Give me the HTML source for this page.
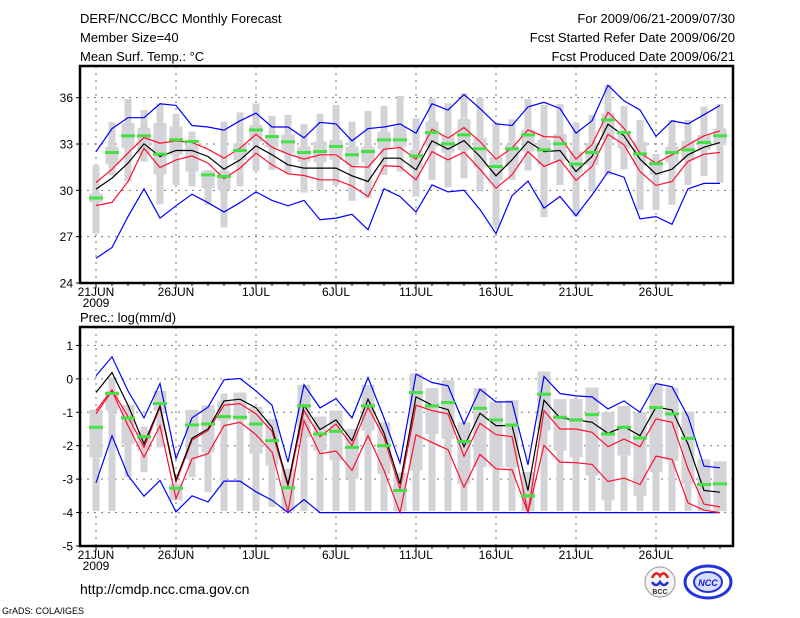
<!DOCTYPE html>
<html><head><meta charset="utf-8"><style>
html,body{margin:0;padding:0;background:#fff;}
svg{display:block;font-family:"Liberation Sans",sans-serif;}
</style></head><body>
<svg id="c" width="800" height="618" viewBox="0 0 800 618" xmlns="http://www.w3.org/2000/svg">
<text x="80" y="23" font-size="13">DERF/NCC/BCC Monthly Forecast</text>
<text x="80" y="42" font-size="13">Member Size=40</text>
<text x="80" y="61" font-size="13">Mean Surf. Temp.: °C</text>
<text x="735" y="23" font-size="13" text-anchor="end">For 2009/06/21-2009/07/30</text>
<text x="735" y="42" font-size="13" text-anchor="end">Fcst Started Refer Date 2009/06/20</text>
<text x="735" y="61" font-size="13" text-anchor="end">Fcst Produced Date 2009/06/21</text>
<text x="80" y="322" font-size="13">Prec.: log(mm/d)</text>
<text x="80" y="594" font-size="14">http://cmdp.ncc.cma.gov.cn</text>
<text x="2" y="614" font-size="9">GrADS: COLA/IGES</text>
<g>
<circle cx="660" cy="582" r="15" fill="#f4f4f4" stroke="#999" stroke-width="1"/>
<path d="M652 578 q4 -8 8 -2 q4 -6 8 2" fill="none" stroke="#d22" stroke-width="2.5"/>
<path d="M652 582 q4 6 8 0 q4 6 8 0" fill="none" stroke="#23c" stroke-width="2.5"/>
<text x="660" y="594" font-size="7" font-weight="bold" text-anchor="middle" fill="#333">BCC</text>
</g>
<g>
<ellipse cx="708" cy="582" rx="23" ry="16" fill="none" stroke="#23d" stroke-width="3"/>
<ellipse cx="708" cy="582" rx="14" ry="10" fill="#d8dcff" stroke="#23d" stroke-width="2"/>
<text x="708" y="586" font-size="9" font-weight="bold" text-anchor="middle" fill="#12c" font-style="italic">NCC</text>
</g>
</svg>
<script>
// ---- Temperature panel data (°C), days 21JUN..30JUL
const days = 40;
const xLabels = ["21JUN","26JUN","1JUL","6JUL","11JUL","16JUL","21JUL","26JUL"];
const tTicks = [24,27,30,33,36];
const pTicks = [-5,-4,-3,-2,-1,0,1];
const tBlueMax = [32.5,34.0,34.7,34.7,35.6,35.5,34.2,34.1,33.9,34.5,35.0,34.1,34.1,33.4,34.4,34.3,33.2,34.0,34.1,34.3,33.7,35.6,35.2,36.2,35.3,34.3,34.2,35.4,35.7,35.3,33.7,34.5,36.8,35.8,35.2,33.5,34.5,34.3,34.9,35.5];
const tBlueMin = [25.6,26.3,28.3,30.1,28.2,29.0,29.75,29.2,28.6,29.2,29.9,29.35,29.0,29.35,28.1,28.2,28.45,27.45,30.1,29.6,28.6,30.35,29.9,30.0,28.75,27.2,29.65,30.6,28.85,29.6,28.35,29.7,31.2,30.85,28.15,28.3,27.8,30.1,30.45,30.45];
const tMean = [30.08,30.79,31.76,33.01,32.19,32.58,32.58,32.19,31.37,31.97,32.88,32.30,31.65,31.44,31.44,31.44,30.94,30.57,32.08,32.08,31.33,33.2,32.66,33.22,32.19,30.94,31.97,33.16,32.51,32.58,31.22,32.19,34.28,33.53,32.02,31.05,31.37,32.30,32.79,33.09];
const tRedUp = [30.51,31.37,32.41,33.42,33.05,33.2,33.1,32.66,32.08,32.73,33.63,32.79,32.36,32.02,32.3,32.3,31.54,31.5,32.66,32.77,32.02,33.96,33.38,34.07,33.16,32.02,32.73,33.91,33.48,33.44,32.02,32.95,35.06,34.02,32.41,31.76,32.3,32.95,33.53,33.85];
const tRedLo = [29.02,29.22,30.57,32.73,31.48,31.97,32.23,31.76,30.75,31.44,32.41,31.65,31.07,30.96,30.68,30.68,30.29,29.6,31.59,31.54,30.68,32.51,31.97,32.47,31.37,30.14,31.0,32.51,31.54,31.97,30.64,31.54,33.63,32.95,31.22,30.32,30.57,31.87,32.34,32.45];
const tObs = [29.5,32.45,33.53,33.53,32.34,33.27,33.16,31.0,30.9,32.58,33.91,33.48,33.14,32.45,32.51,32.84,32.3,32.51,33.27,33.27,32.23,33.74,33.01,33.59,32.69,31.54,32.69,33.59,32.62,33.01,31.7,32.45,34.56,33.74,32.36,31.72,32.45,32.62,33.1,33.53];
const tBarTop = [31.65,34.41,35.91,35.2,35.63,34.95,33.8,31.32,34.45,35.05,35.63,34.82,34.88,34.3,34.95,35.53,34.45,35.14,35.46,36.11,34.66,35.95,35.63,36.28,36.02,34.34,34.6,35.91,35.52,35.59,34.38,34.88,36.82,35.46,34.55,32.36,34.55,34.55,35.42,35.59];
const tBarBot = [27.21,30.96,30.61,31.86,29.1,30.35,30.25,29.06,27.6,30.25,31.26,31.32,31.11,29.86,30.03,30.35,29.32,29.49,31.0,31.22,29.6,30.67,30.2,30.78,29.92,27.66,30.67,31.28,28.26,30.35,28.3,29.92,31.0,31.36,28.73,28.73,29.06,30.35,30.93,30.5];
const tBoxTop = [29.79,32.83,34.34,34.06,34.34,34.13,32.94,31.26,31.22,33.05,34.23,33.59,33.59,32.83,33.16,33.26,32.83,32.83,33.8,34.13,32.61,34.45,33.58,34.6,33.37,32.14,32.94,33.91,33.3,33.65,32.51,33.05,34.98,33.8,33.15,31.97,32.83,33.2,33.58,34.0];
const tBoxBot = [29.23,31.69,32.73,32.34,31.04,32.3,31.22,30.14,30.03,31.97,33.16,32.77,32.4,31.86,31.82,31.97,31.65,31.82,32.68,32.83,31.43,32.83,32.44,32.61,31.49,30.67,31.54,32.51,31.64,31.92,31.15,31.64,33.26,32.72,31.58,31.0,31.8,31.97,32.61,32.94];
// ---- Precipitation panel data (log mm/d)
const pBlueMax = [0.09,0.66,-0.36,-1.17,-0.14,-2.39,-1.17,-0.85,-0.03,0.01,-0.36,-0.79,-2.49,-0.18,-0.87,-0.59,-1.17,0.04,-1.17,-2.52,0.14,-0.11,-0.21,-1.35,-0.31,-0.69,-0.69,-2.57,0.07,-0.44,-0.51,-0.54,-0.9,-0.66,-1.0,-0.14,-0.24,-1.13,-2.61,-2.66];
const pBlueMin = [-3.11,-1.7,-2.89,-3.51,-3.04,-3.98,-3.5,-3.68,-3.06,-3.06,-3.38,-3.63,-4,-3.61,-4,-4,-4,-4,-4,-4,-4,-4,-4,-4,-4,-4,-4,-4,-4,-4,-4,-4,-4,-4,-4,-4,-4,-4,-4,-4];
const pMean = [-0.41,0.19,-0.79,-1.95,-0.81,-3.02,-1.78,-1.5,-0.66,-0.61,-0.87,-1.45,-3.16,-0.79,-1.52,-1.23,-1.85,-0.61,-1.62,-3.14,-0.54,-0.79,-0.92,-2.03,-1.03,-1.4,-1.4,-3.34,-0.64,-1.17,-1.23,-1.3,-1.63,-1.43,-1.7,-0.85,-0.93,-1.95,-3.34,-3.39];
const pRedUp = [-0.95,-0.33,-1.13,-2.05,-0.85,-3.09,-1.83,-1.55,-0.79,-0.74,-1.05,-1.57,-3.22,-0.95,-1.73,-1.35,-2.0,-0.85,-1.75,-3.29,-0.79,-0.95,-1.05,-2.32,-1.33,-1.67,-1.73,-4.0,-0.95,-1.5,-1.5,-1.6,-2.03,-1.8,-2.03,-1.2,-1.3,-2.69,-3.75,-3.83];
const pRedLo = [-1.05,-0.36,-1.4,-2.34,-1.4,-3.58,-2.39,-2.24,-1.4,-1.3,-1.67,-2.19,-3.98,-1.25,-2.24,-2.16,-2.74,-1.7,-2.74,-4.0,-1.67,-1.9,-2.12,-3.24,-2.26,-2.69,-2.72,-4.0,-1.99,-2.49,-2.51,-2.56,-3.07,-2.97,-3.16,-2.31,-2.41,-3.71,-3.93,-4.0];
const pObs = [-1.45,-0.44,-1.17,-1.73,-0.74,-3.27,-1.38,-1.35,-1.13,-1.15,-1.35,-1.85,-3.26,-0.81,-1.65,-1.57,-2.05,-0.81,-2.0,-3.34,-0.41,-0.81,-0.71,-1.88,-0.88,-1.23,-1.38,-3.5,-0.46,-1.15,-1.23,-1.07,-1.65,-1.45,-1.77,-0.86,-1.05,-1.78,-3.16,-3.14];
const pBarTop = [-0.92,0.04,-0.78,-1.43,-0.36,-3.14,-0.93,-0.79,-0.44,-0.41,-0.84,-1.2,-2.69,-0.18,-1.13,-0.95,-1.5,-0.18,-1.3,-2.81,0.16,-0.28,-0.04,-1.3,-0.28,-0.68,-0.64,-2.79,0.22,-0.61,-0.61,-0.26,-1.0,-0.81,-1.0,-0.16,-0.26,-0.98,-2.41,-2.47];
const pBarBot = [-3.95,-3.95,-2.94,-2.79,-2.05,-3.63,-2.94,-3.39,-3.95,-3.95,-3.95,-3.83,-3.95,-3.95,-3.95,-3.95,-3.95,-3.95,-3.95,-3.95,-3.95,-3.95,-3.95,-3.95,-3.95,-3.95,-3.95,-3.95,-3.95,-3.95,-3.95,-3.95,-3.95,-3.95,-3.95,-3.95,-3.95,-3.95,-3.95,-3.95];
const pBoxTop = [-0.92,-0.36,-0.78,-1.55,-0.36,-3.14,-0.93,-0.79,-0.66,-0.41,-0.84,-1.2,-2.69,-0.18,-1.13,-0.95,-1.5,-0.18,-1.3,-2.81,0.16,-0.28,-0.04,-1.3,-0.28,-0.68,-0.64,-2.79,0.22,-0.61,-0.61,-0.26,-1.0,-0.81,-1.0,-0.16,-0.26,-0.98,-2.41,-2.47];
const pBoxBot = [-2.34,-0.95,-1.95,-2.15,-0.95,-3.63,-2.41,-2.2,-1.25,-1.25,-2.24,-2.59,-3.96,-1.75,-2.15,-2.44,-2.99,-1.55,-2.84,-3.96,-2.74,-1.65,-1.8,-3.14,-2.64,-2.64,-2.64,-3.96,-1.55,-2.15,-2.34,-2.89,-3.63,-2.29,-3.51,-2.79,-2.44,-3.14,-3.96,-3.96];

const NS = "http://www.w3.org/2000/svg";
const svg = document.getElementById('c');
const X0 = 80, X1 = 733;
function xd(d){ return 96 + 16*d; }
function mk(tag, attrs, parent){
  const e = document.createElementNS(NS, tag);
  for (const k in attrs) e.setAttribute(k, attrs[k]);
  (parent||svg).appendChild(e);
  return e;
}
function panel(name, top, bottom, vmin, vmax, ticks, series, bars, showYear){
  const y = v => bottom - (v - vmin) * (bottom - top) / (vmax - vmin);
  const g = mk('g', {});
  
  
  // grid
  for (let i = 0; i < xLabels.length; i++) {
    const gx = xd(i*5);
    const gl = mk('line', {x1:gx, x2:gx, y1:top, y2:bottom, stroke:'#777', 'stroke-width':1, 'stroke-dasharray':'2,5'}, g);
    
    
  }
  ticks.forEach(t => {
    if (t === vmin) return;
    const gl = mk('line', {x1:X0, x2:X1, y1:y(t), y2:y(t), stroke:'#777', 'stroke-width':1, 'stroke-dasharray':'2,5'}, g);
    
    
  });
  // bars
  for (let d = 0; d < days; d++) {
    const cx = xd(d);
    const b1 = mk('rect', {x:cx-3.5, width:7, y:y(bars[0][d]), height:Math.max(1, y(bars[1][d]) - y(bars[0][d])), fill:'#d3d3d8'}, g);
    
    
    const b2 = mk('rect', {x:cx-6.5, width:13, y:y(bars[2][d]), height:Math.max(1, y(bars[3][d]) - y(bars[2][d])), fill:'#d3d3d8'}, g);
    
    
  }
  // lines
  series.forEach(s => {
    const pts = s.data.map((v, d) => xd(d) + ',' + y(v).toFixed(1)).join(' ');
    const pl = mk('polyline', {points:pts, fill:'none', stroke:s.color, 'stroke-width':1.2}, g);
    
    
  });
  // observed marks
  for (let d = 0; d < days; d++) {
    const m = mk('rect', {x:xd(d)-7, width:14, y:y(bars[4][d])-1.5, height:3, fill:'#44e044'}, g);
    
    
  }
  // frame
  const fr = mk('rect', {x:X0, y:top, width:X1-X0, height:bottom-top, fill:'none', stroke:'#000', 'stroke-width':2.5}, g);
  
  
  // minor ticks
  for (let d = 0; d < days; d++) {
    const tk = mk('line', {x1:xd(d), x2:xd(d), y1:bottom, y2:bottom+(d%5===0?5:3), stroke:'#000', 'stroke-width':1}, g);
    
    
  }
  ticks.forEach(t => {
    const tk = mk('line', {x1:X0-4, x2:X0, y1:y(t), y2:y(t), stroke:'#000', 'stroke-width':1}, g);
    
    
    const tl = mk('text', {x:X0-7, y:y(t)+4.5, 'font-size':12, 'text-anchor':'end'}, g);
    tl.textContent = String(t);
    
    
  });
  xLabels.forEach((lab, i) => {
    const tl = mk('text', {x:xd(i*5), y:bottom+13, 'font-size':12, 'text-anchor':'middle'}, g);
    tl.textContent = lab;
    
    
  });
  const yr = mk('text', {x:xd(0), y:bottom+24, 'font-size':12, 'text-anchor':'middle'}, g);
  yr.textContent = '2009';
  
  
}
panel('temperature-panel', 66, 283, 24, 38.05, tTicks,
  [{name:'ensemble-max-line', data:tBlueMax, color:'#0000ff'},
   {name:'ensemble-min-line', data:tBlueMin, color:'#0000ff'},
   {name:'upper-spread-line', data:tRedUp, color:'#ff1030'},
   {name:'lower-spread-line', data:tRedLo, color:'#ff1030'},
   {name:'ensemble-mean-line', data:tMean, color:'#000000'}],
  [tBarTop, tBarBot, tBoxTop, tBoxBot, tObs]);
panel('precipitation-panel', 327, 546, -5, 1.55, pTicks,
  [{name:'ensemble-max-line', data:pBlueMax, color:'#0000ff'},
   {name:'ensemble-min-line', data:pBlueMin, color:'#0000ff'},
   {name:'upper-spread-line', data:pRedUp, color:'#ff1030'},
   {name:'lower-spread-line', data:pRedLo, color:'#ff1030'},
   {name:'ensemble-mean-line', data:pMean, color:'#000000'}],
  [pBarTop, pBarBot, pBoxTop, pBoxBot, pObs]);
</script>
</body></html>
